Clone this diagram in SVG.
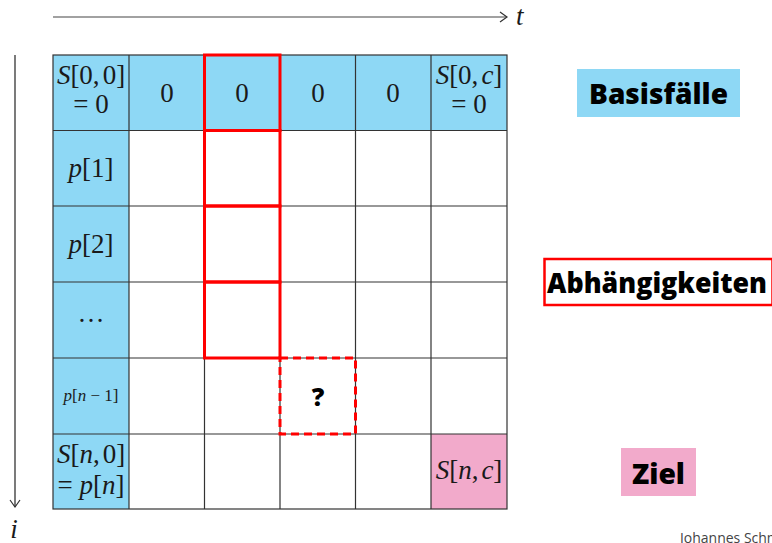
<svg xmlns="http://www.w3.org/2000/svg" width="772" height="543" viewBox="0 0 772 543">
<style>
.m{font-family:"Liberation Serif","DejaVu Serif",serif;font-size:27px;fill:#1a1a1a;text-anchor:middle}
.i{font-style:italic}
.g{stroke:#333;stroke-width:1.2;fill:none}
.lbl{font-family:"Open Sans","Noto Sans",sans-serif;font-weight:800;font-size:29px;fill:#000;text-anchor:middle}
.dep{fill:none;stroke:#f00;stroke-width:3}
</style>
<defs>
<marker id="ah" markerWidth="10" markerHeight="12" refX="8" refY="6" orient="auto" markerUnits="userSpaceOnUse">
<path d="M1,1 L8,6 L1,11" fill="none" stroke="#333" stroke-width="1.2"/>
</marker>
</defs>
<g id="axes">
<line x1="53" y1="17" x2="507" y2="17" stroke="#444" stroke-width="1.2" marker-end="url(#ah)"/>
<text x="516" y="25" class="m i" style="text-anchor:start">t</text>
<line x1="15" y1="55" x2="15" y2="507" stroke="#222" stroke-width="1.2" marker-end="url(#ah)"/>
<text x="14" y="538" class="m i">i</text>
</g>
<g id="fills">
<rect x="53" y="55" width="454" height="75.5" fill="#8ed8f5"/>
<rect x="53" y="55" width="76" height="454" fill="#8ed8f5"/>
<rect x="431" y="434" width="76" height="75" fill="#f2aacb"/>
</g>
<g id="grid">
<rect x="53" y="55" width="454" height="454" class="g"/>
<path class="g" d="M129,55V509M204.5,55V509M280,55V509M355.5,55V509M431,55V509M53,130.5H507M53,206H507M53,282H507M53,358H507M53,434H507"/>
</g>
<g id="cells-text">
<text x="91" y="84" class="m"><tspan class="i">S</tspan>[0,<tspan dx="3">0</tspan>]</text>
<text x="91" y="113" class="m">= 0</text>
<text x="167" y="102" class="m">0</text>
<text x="242" y="102" class="m">0</text>
<text x="318" y="102" class="m">0</text>
<text x="393" y="102" class="m">0</text>
<text x="469" y="84" class="m"><tspan class="i">S</tspan>[0,<tspan dx="3" class="i">c</tspan>]</text>
<text x="469" y="113" class="m">= 0</text>
<text x="91" y="177" class="m"><tspan class="i">p</tspan>[1]</text>
<text x="91" y="253" class="m"><tspan class="i">p</tspan>[2]</text>
<text x="91" y="322" class="m">…</text>
<text x="91" y="401" class="m" style="font-size:17px"><tspan class="i">p</tspan>[<tspan class="i">n</tspan> − 1]</text>
<text x="91" y="463" class="m"><tspan class="i">S</tspan>[<tspan class="i">n</tspan>,<tspan dx="3">0</tspan>]</text>
<text x="91" y="494" class="m">= <tspan class="i">p</tspan>[<tspan class="i">n</tspan>]</text>
<text x="469" y="479" class="m"><tspan class="i">S</tspan>[<tspan class="i">n</tspan>,<tspan dx="3" class="i">c</tspan>]</text>
</g>
<g id="dependencies">
<rect x="204.5" y="55" width="75.5" height="75.5" class="dep"/>
<rect x="204.5" y="130.5" width="75.5" height="75.5" class="dep"/>
<rect x="204.5" y="206" width="75.5" height="76" class="dep"/>
<rect x="204.5" y="282" width="75.5" height="76" class="dep"/>
</g>
<g id="target-cell">
<rect x="280" y="358" width="75.5" height="76" fill="none" stroke="#f00" stroke-width="3" stroke-dasharray="8,5"/>
<text x="318" y="406" class="lbl" style="font-size:25px">?</text>
</g>
<g id="legend-basisfaelle">
<rect x="577" y="69" width="163" height="48" fill="#8ed8f5"/>
<text x="658.5" y="104" class="lbl" textLength="139" lengthAdjust="spacingAndGlyphs">Basisfälle</text>
</g>
<g id="legend-abhaengigkeiten">
<rect x="544.5" y="259" width="228" height="46" fill="#fff" stroke="#f00" stroke-width="2.5"/>
<text x="657" y="293" class="lbl" textLength="220" lengthAdjust="spacingAndGlyphs">Abhängigkeiten</text>
</g>
<g id="legend-ziel">
<rect x="621" y="448" width="75" height="48" fill="#f2aacb"/>
<text x="658.5" y="484" class="lbl" textLength="53" lengthAdjust="spacingAndGlyphs">Ziel</text>
</g>
<text x="680" y="543" font-family="'Open Sans','Noto Sans',sans-serif" font-size="14" fill="#444">Johannes Schmidt</text>
</svg>
